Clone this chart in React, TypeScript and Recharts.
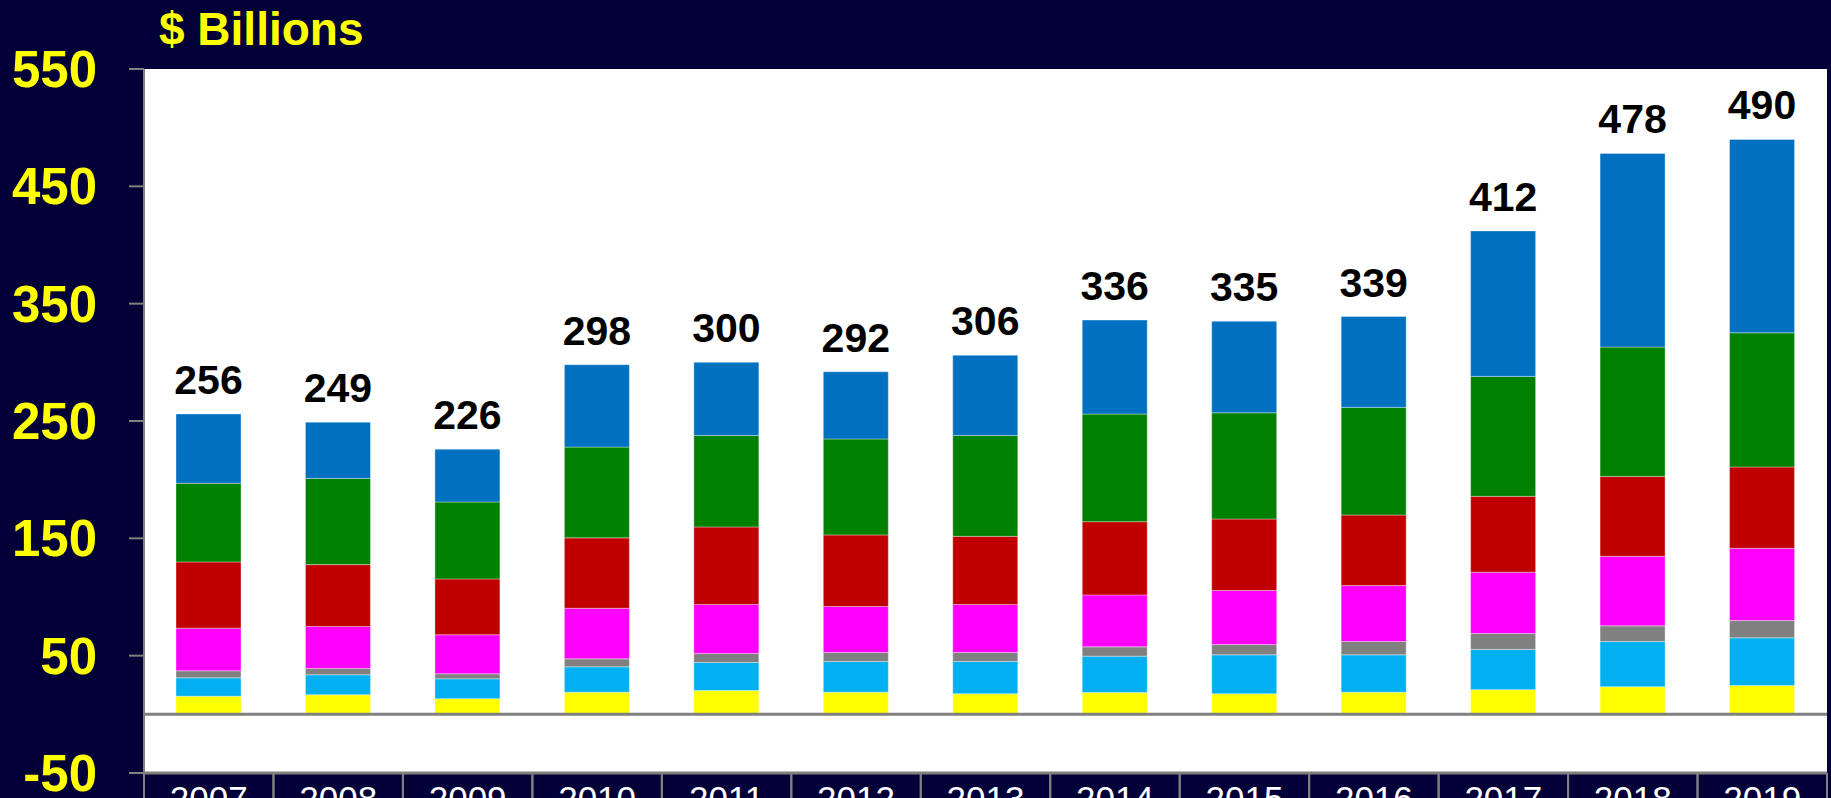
import React from "react";
import {
  BarChart,
  Bar,
  XAxis,
  YAxis,
  CartesianGrid,
  ReferenceLine,
  LabelList,
} from "recharts";

const years = ["2007", "2008", "2009", "2010", "2011", "2012", "2013", "2014", "2015", "2016", "2017", "2018", "2019"];

// stacked segments, bottom to top ($ billions)
const yellowVals = [15.5, 16.7, 13.3, 18.9, 20.3, 18.9, 17.5, 18.6, 17.5, 18.9, 21.0, 23.5, 24.6];
const lightBlueVals = [15.6, 17.0, 17.0, 21.6, 23.9, 26.1, 27.5, 31.0, 33.2, 31.8, 34.3, 38.6, 40.6];
const grayVals = [6.0, 5.4, 4.3, 6.8, 7.7, 7.7, 7.7, 7.9, 8.8, 11.4, 13.6, 13.3, 14.7];
const magentaVals = [36.3, 35.7, 33.2, 43.1, 41.7, 39.2, 40.9, 44.3, 46.0, 47.6, 52.2, 59.3, 61.6];
const redVals = [56.5, 52.8, 47.6, 60.0, 66.1, 61.0, 58.1, 62.4, 61.0, 60.2, 64.7, 68.1, 69.3];
const greenVals = [67.0, 73.5, 65.6, 77.4, 78.0, 81.8, 86.0, 91.7, 90.5, 91.7, 102.2, 110.2, 114.4];
const blueVals = [59.1, 47.9, 45.0, 70.2, 62.3, 57.3, 68.3, 80.1, 78.0, 77.4, 124.0, 165.0, 164.8];
const totals = [256, 249, 226, 298, 300, 292, 306, 336, 335, 339, 412, 478, 490];

const yTicks = [-50, 50, 150, 250, 350, 450, 550];

const data = years.map((year, i) => ({
  year,
  yellow: yellowVals[i],
  lightBlue: lightBlueVals[i],
  gray: grayVals[i],
  magenta: magentaVals[i],
  red: redVals[i],
  green: greenVals[i],
  blue: blueVals[i],
  total: totals[i],
}));

const series = [
  { key: "yellow", color: "#FFFF00" },
  { key: "lightBlue", color: "#00B0F0" },
  { key: "gray", color: "#808080" },
  { key: "magenta", color: "#FF00FF" },
  { key: "red", color: "#C00000" },
  { key: "green", color: "#008000" },
  { key: "blue", color: "#0070C0" },
];

const FONT = "'Liberation Sans', Arial, Helvetica, sans-serif";
const CHART_W = 1831;
const CHART_H = 860;
const Y_AXIS_W = 144;
const RIGHT = 4;
const HALF_BAND = (CHART_W - Y_AXIS_W - RIGHT) / years.length / 2;

function YearTick({ x, y, payload }: any) {
  return (
    <g>
      <line x1={x - HALF_BAND} x2={x - HALF_BAND} y1={y} y2={y + 120} stroke="#808080" strokeWidth={2} />
      <line x1={x + HALF_BAND} x2={x + HALF_BAND} y1={y} y2={y + 120} stroke="#808080" strokeWidth={2} />
      <text x={x} y={y + 38} textAnchor="middle" fill="#ffffff" fontSize={35} fontFamily={FONT}>
        {payload.value}
      </text>
    </g>
  );
}

export default function App() {
  return (
    <div
      style={{
        position: "absolute",
        left: 0,
        top: 0,
        width: CHART_W,
        height: 798,
        overflow: "hidden",
        background: "#040038",
      }}
    >
      <div
        style={{
          position: "absolute",
          left: 159,
          top: 6,
          fontSize: 46,
          lineHeight: "46px",
          fontWeight: "bold",
          color: "#FFFF00",
          fontFamily: FONT,
          whiteSpace: "nowrap",
        }}
      >
        $ Billions
      </div>
      <BarChart
        width={CHART_W}
        height={CHART_H}
        data={data}
        margin={{ top: 69, right: RIGHT, bottom: 0, left: 0 }}
        barSize={65}
      >
        <CartesianGrid fill="#ffffff" horizontal={false} vertical={false} stroke="none" />
        <XAxis
          dataKey="year"
          height={87}
          interval={0}
          tickLine={false}
          tickSize={0}
          tickMargin={0}
          axisLine={{ stroke: "#808080", strokeWidth: 3 }}
          tick={<YearTick />}
        />
        <YAxis
          type="number"
          domain={[-50, 550]}
          ticks={yTicks}
          interval={0}
          allowDataOverflow
          width={Y_AXIS_W}
          tickSize={15}
          tickMargin={32}
          axisLine={{ stroke: "#808080", strokeWidth: 2 }}
          tickLine={{ stroke: "#808080", strokeWidth: 2 }}
          tick={{ fill: "#FFFF00", fontSize: 51, fontWeight: "bold", fontFamily: FONT }}
        />
        {series.map((s, idx) => (
          <Bar
            key={s.key}
            dataKey={s.key}
            stackId="a"
            fill={s.color}
            stroke="rgba(255,255,255,0.35)"
            strokeWidth={1}
            isAnimationActive={false}
          >
            {idx === series.length - 1 && (
              <LabelList
                dataKey="total"
                position="top"
                offset={20}
                fill="#000000"
                fontSize={41}
                fontWeight="bold"
                fontFamily={FONT}
              />
            )}
          </Bar>
        ))}
        <ReferenceLine y={0} stroke="#808080" strokeWidth={3} />
      </BarChart>
    </div>
  );
}
